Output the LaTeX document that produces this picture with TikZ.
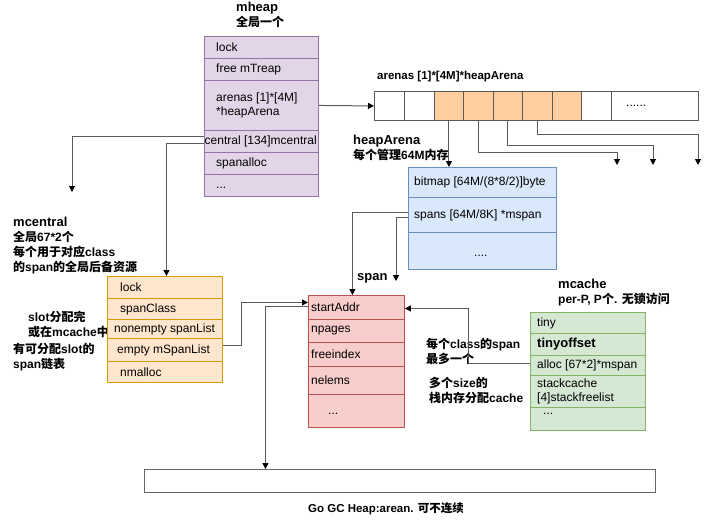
\documentclass[tikz,border=0pt]{standalone}
\usepackage{fontspec}
\setmainfont{Liberation Sans}
\newfontfamily\cjk{Noto Sans CJK SC}
\usetikzlibrary{arrows.meta}
\newcommand\zh[1]{{\cjk #1}}
\definecolor{purpF}{HTML}{E1D5E7}\definecolor{purpD}{HTML}{9673A6}
\definecolor{oranF}{HTML}{FFE6CC}\definecolor{oranD}{HTML}{D79B00}
\definecolor{arrF}{HTML}{FFCE9F}
\definecolor{blueF}{HTML}{DAE8FC}\definecolor{blueD}{HTML}{6C8EBF}
\definecolor{redF}{HTML}{F8CECC}\definecolor{redD}{HTML}{B85450}
\definecolor{grnF}{HTML}{D5E8D4}\definecolor{grnD}{HTML}{82B366}
\definecolor{linec}{HTML}{5A5A5A}
\tikzset{
 conn/.style={draw=linec, line width=1pt, -{Triangle[length=6pt,width=6pt,color=black]}},
 cellbase/.style={draw, line width=0.9pt, inner sep=0pt},
 purp/.style={cellbase, fill=purpF, draw=purpD},
 oran/.style={cellbase, fill=oranF, draw=oranD},
 arrw/.style={cellbase, fill=white, draw=gray!70!black},
 arro/.style={cellbase, fill=arrF, draw=gray!70!black},
 blu/.style={cellbase, fill=blueF, draw=blueD},
 rd/.style={cellbase, fill=redF, draw=redD},
 grn/.style={cellbase, fill=grnF, draw=grnD},
 rowtext/.style={anchor=west, align=left, inner sep=0pt, font=\fontsize{12}{14}\selectfont},
 lbl/.style={anchor=west, align=left, inner sep=0pt, font=\bfseries\fontsize{12}{15}\selectfont},
}
% name, x, y, w, h, text shift, style, text
\newcommand\mkcell[8]{%
  \node[#7, minimum width=#4pt, minimum height=#5pt, anchor=north west] (#1) at (#2,#3) {};
  \node[rowtext] (#1t) at ([#6]#1.west) {#8};}
\begin{document}
\begin{tikzpicture}[x=1pt,y=-1pt]
\useasboundingbox[fill=white] (0,0) rectangle (720,527);

% mheap
\node[lbl] (lmheap) at (236,15) {{\fontsize{13}{15}\selectfont mheap}\\\zh{全局一个}};
\mkcell{mh1}{204}{36}{114}{22}{xshift=12pt}{purp}{lock}
\mkcell{mh2}{204}{58}{114}{22}{xshift=12pt}{purp}{free mTreap}
\mkcell{mh3}{204}{80}{114}{50}{xshift=12pt}{purp}{arenas [1]*[4M]\\*heapArena}
\mkcell{mh4}{204}{130}{114}{22}{xshift=0.5pt}{purp}{central [134]mcentral}
\mkcell{mh5}{204}{152}{114}{22}{xshift=12pt}{purp}{spanalloc}
\mkcell{mh6}{204}{174}{114}{22}{xshift=12pt,yshift=-2pt}{purp}{...}

% arenas array
\node[lbl, font=\bfseries\fontsize{11.5}{14}\selectfont] (larenas) at (377,77) {arenas [1]*[4M]*heapArena};
\mkcell{arr1}{374}{91}{30}{29}{xshift=0pt}{arrw}{}
\mkcell{arr2}{404}{91}{30}{29}{xshift=0pt}{arrw}{}
\mkcell{arr3}{434}{91}{29}{29}{xshift=0pt}{arro}{}
\mkcell{arr4}{463}{91}{30}{29}{xshift=0pt}{arro}{}
\mkcell{arr5}{493}{91}{29}{29}{xshift=0pt}{arro}{}
\mkcell{arr6}{522}{91}{30}{29}{xshift=0pt}{arro}{}
\mkcell{arr7}{552}{91}{29}{29}{xshift=0pt}{arro}{}
\mkcell{arr8}{581}{91}{30}{29}{xshift=0pt}{arrw}{}
\mkcell{arr9}{611}{91}{87}{29}{xshift=15pt}{arrw}{......}

% heapArena
\node[lbl] (lheapa) at (353,147.5) {{\fontsize{13}{15}\selectfont heapArena}\\\zh{每个管理}64M\zh{内存}};
\mkcell{ha1}{408}{167}{148}{30}{xshift=6pt}{blu}{bitmap [64M/(8*8/2)]byte}
\mkcell{ha2}{408}{197}{148}{35}{xshift=6pt}{blu}{spans [64M/8K] *mspan}
\mkcell{ha3}{408}{232}{148}{37}{xshift=66pt,yshift=-5pt}{blu}{....}

% mcentral
\node[lbl] (lmcentral) at (13,245.5) {{\fontsize{13}{15}\selectfont mcentral}\\\zh{全局}67*2\zh{个}\\\zh{每个用于对应}class\\\zh{的}span\zh{的全局后备资源}};
\node[lbl] (lslot) at (28,324.5) {slot\zh{分配完}\\\zh{或在}mcache\zh{中}};
\node[lbl] (lfree) at (13,357.5) {\zh{有可分配}slot\zh{的}\\span\zh{链表}};
\mkcell{mc1}{107}{276}{115}{22}{xshift=13pt}{oran}{lock}
\mkcell{mc2}{107}{298}{115}{21}{xshift=13pt}{oran}{spanClass}
\mkcell{mc3}{107}{319}{115}{19}{xshift=7pt}{oran}{nonempty spanList}
\mkcell{mc4}{107}{338}{115}{23}{xshift=10pt}{oran}{empty mSpanList}
\mkcell{mc5}{107}{361}{115}{21}{xshift=13pt}{oran}{nmalloc}

% span
\node[lbl] (lspan) at (357,278) {{\fontsize{13}{15}\selectfont span}};
\mkcell{sp1}{308}{295}{96}{24}{xshift=3pt}{rd}{startAddr}
\mkcell{sp2}{308}{319}{96}{23}{xshift=3pt}{rd}{npages}
\mkcell{sp3}{308}{342}{96}{24}{xshift=3pt}{rd}{freeindex}
\mkcell{sp4}{308}{366}{96}{28}{xshift=3pt}{rd}{nelems}
\mkcell{sp5}{308}{394}{96}{33}{xshift=20pt,yshift=-3pt}{rd}{...}

% mcache
\node[lbl] (lmcache) at (558,293) {{\fontsize{13}{15}\selectfont mcache}\\per-P, P\zh{个}. \zh{无锁访问}};
\node[lbl] (lclass) at (426,351.5) {\zh{每个}class\zh{的}span\\\zh{最多一个}};
\node[lbl] (lsize) at (429,390.5) {\zh{多个}size\zh{的}\\\zh{栈内存分配}cache};
\mkcell{mk1}{530}{312}{115}{21}{xshift=7pt}{grn}{tiny}
\mkcell{mk2}{530}{333}{115}{22}{xshift=7pt}{grn}{\bfseries\fontsize{13}{15}\selectfont tinyoffset}
\mkcell{mk3}{530}{355}{115}{20}{xshift=7pt}{grn}{alloc [67*2]*mspan}
\mkcell{mk4}{530}{375}{115}{32}{xshift=7pt}{grn}{stackcache\\{}[4]stackfreelist}
\mkcell{mk5}{530}{407}{115}{23}{xshift=13pt,yshift=5pt}{grn}{...}

% heap
\node[cellbase, draw=gray!80!black, fill=white, minimum width=511pt, minimum height=23pt, anchor=north west] (heap) at (144,469) {};
\node[lbl, anchor=center, font=\bfseries\fontsize{11.5}{14}\selectfont] (lheap) at (386,509) {Go GC Heap:arean. \zh{可不连续}};

% free ends
\coordinate (endA) at (617,165);
\coordinate (endB) at (653,165);
\coordinate (endC) at (698,165);
\coordinate (endD) at (72,192);
\coordinate (endE) at (396,281);

% connectors
\draw[conn] (mh3.east) -- (arr1.west);
\draw[conn] (arr3.south) -- (arr3.south |- ha1.north);
\draw[conn] (arr4.south) -- ++(0,32) -| (endA);
\draw[conn] (arr5.south) -- ++(0,25) -| (endB);
\draw[conn] (arr6.south) -- ++(0,14) -| (endC);
\draw[conn] ([yshift=5pt]mh4.west) -| (endD);
\draw[conn] ([yshift=-2pt]mh4.west) -| ([xshift=1.5pt]mc1.north);
\draw[conn] ([yshift=2.5pt]ha2.west) -| ([xshift=-4pt]sp1.north);
\draw[conn] ([yshift=-2.5pt]ha2.west) -| (endE);
\draw[conn] ([yshift=4.5pt]mc4.east) -- ++(19,0) |- ([yshift=5pt]sp1.west);
\draw[conn] ([yshift=1pt]sp1.west) -| ([xshift=-134.5pt]heap.north);
\draw[conn] ([yshift=2pt]mk3.west) -- ++(-62,0) |- ([yshift=-1pt]sp1.east);
\end{tikzpicture}
\end{document}
